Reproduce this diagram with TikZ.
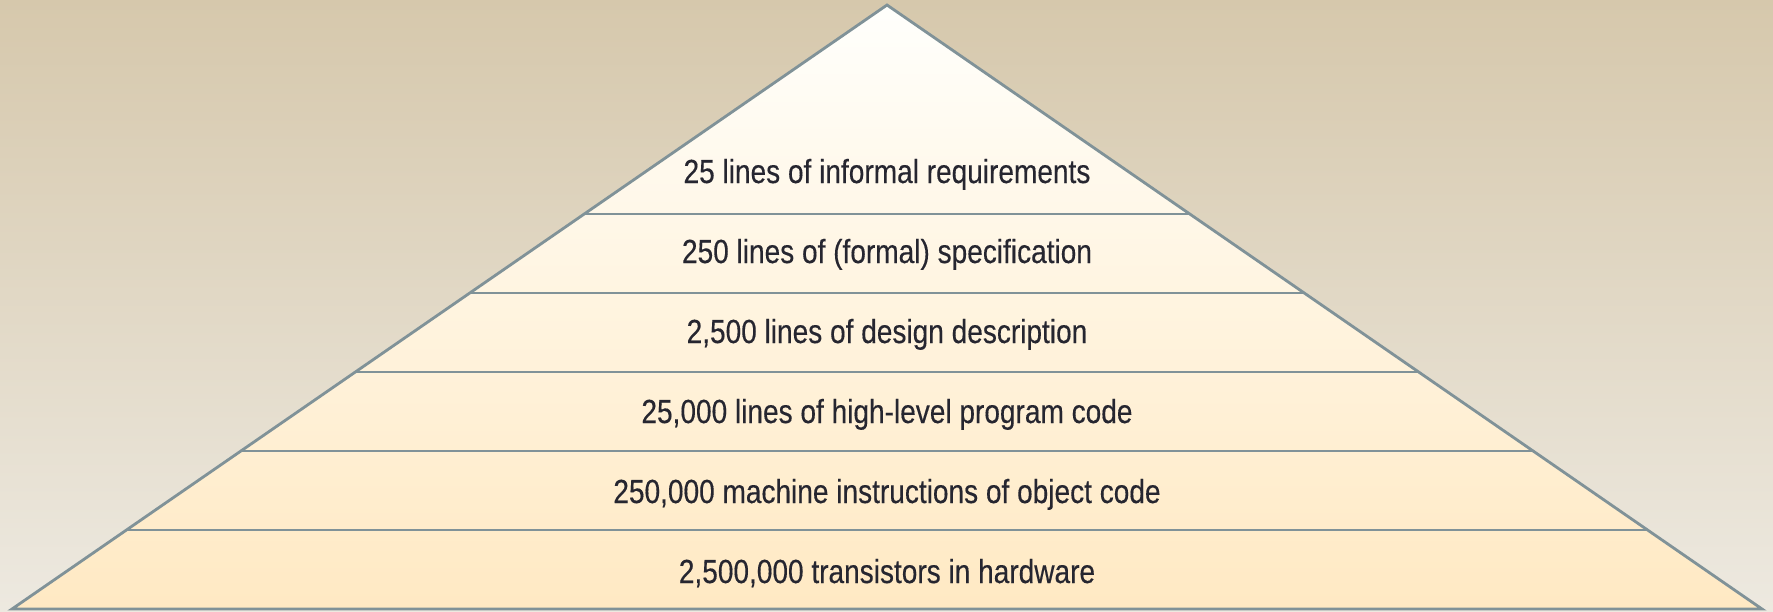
\documentclass[tikz,border=0pt]{standalone}
\usepackage{fontspec}
\setmainfont{Liberation Sans}[FakeStretch=0.84, FakeBold=0.3]
\usepackage{tikz}

\definecolor{bgtop}{RGB}{214,200,172}
\definecolor{bgbottom}{RGB}{237,233,224}
\definecolor{pyrtop}{RGB}{255,255,252}
\definecolor{pyrbottom}{RGB}{255,233,195}
\definecolor{edgegray}{RGB}{128,146,152}
\definecolor{labeltext}{RGB}{38,38,48}

\tikzset{
    layerline/.style={draw=edgegray, line width=0.8pt},
    layerlabel/.style={anchor=base, text=labeltext, font=\fontsize{9.5}{11}\selectfont, inner sep=0pt}
}

\begin{document}
\begin{tikzpicture}[scale=1]
\useasboundingbox (0,0) rectangle (17.73,6.11);
% background
\shade[top color=bgtop, bottom color=bgbottom] (0,0) rectangle (17.73,6.11);
% pyramid body
\shade[top color=pyrtop, bottom color=pyrbottom] (0.12,0.02) -- (8.87,6.06) -- (17.62,0.02) -- cycle;
% layer boundaries
\draw[layerline] (5.84,3.97) -- (11.90,3.97);
\draw[layerline] (4.70,3.18) -- (13.04,3.18);
\draw[layerline] (3.55,2.39) -- (14.19,2.39);
\draw[layerline] (2.41,1.60) -- (15.33,1.60);
\draw[layerline] (1.26,0.81) -- (16.48,0.81);
% outline
\draw[layerline, line join=miter] (0.12,0.02) -- (8.87,6.06) -- (17.62,0.02) -- cycle;
% labels
\node[layerlabel] (req) at (8.87,4.28) {25 lines of informal requirements};
\node[layerlabel] (spec) at (8.87,3.48) {250 lines of (formal) specification};
\node[layerlabel] (design) at (8.87,2.68) {2,500 lines of design description};
\node[layerlabel] (prog) at (8.87,1.88) {25,000 lines of high-level program code};
\node[layerlabel] (object) at (8.87,1.08) {250,000 machine instructions of object code};
\node[layerlabel] (hw) at (8.87,0.28) {2,500,000 transistors in hardware};
\end{tikzpicture}
\end{document}
